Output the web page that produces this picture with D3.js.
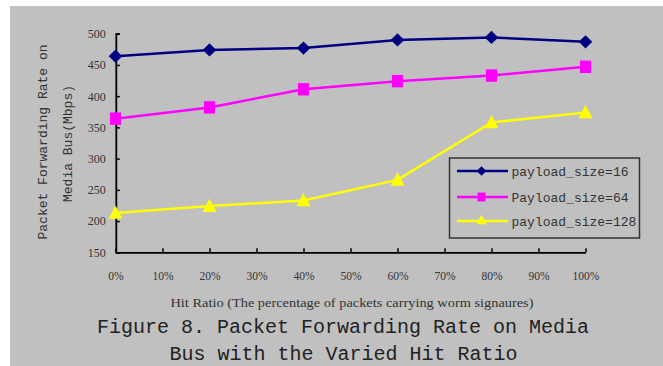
<!DOCTYPE html>
<html><head><meta charset="utf-8">
<script src="https://cdn.jsdelivr.net/npm/d3@7"></script>
<style>body{margin:0;background:#fff}svg{display:block}</style>
</head><body>
<svg id="c" width="663" height="366"></svg>
<script>
const hitRatios = [0, 20, 40, 60, 80, 100];
const xTicks = [0, 10, 20, 30, 40, 50, 60, 70, 80, 90, 100];
const yTicks = [150, 200, 250, 300, 350, 400, 450, 500];
const seriesNames = ["payload_size=16", "Payload_size=64", "payload_size=128"];
const s16 = [464, 474, 477, 490, 494, 487];
const s64 = [364, 382, 411, 424, 433, 447];
const s128 = [213, 224, 233, 266, 358, 374];
const colors = ["#000080", "#ff00ff", "#ffff00"];
const allSeries = [s16, s64, s128];

// marker shapes (path generators by scale factor)
function marker(k, f) {
  if (k === 0) { const w = 6.8 * f, h = 6.6 * f; return `M0,${-h}L${w},0L0,${h}L${-w},0Z`; }
  if (k === 1) { const w = 5.6 * f, h = 6.2 * f; return `M${-w},${-h}H${w}V${h}H${-w}Z`; }
  const w = 7 * f, t = 7.5 * f, b = 5.8 * f; return `M0,${-t}L${w},${b}L${-w},${b}Z`;
}

const svg = d3.select("#c");
svg.append("rect").attr("x", 10).attr("y", 6).attr("width", 653).attr("height", 360).attr("fill", "#c0c0c0");

const x = d3.scaleLinear().domain([0, 100]).range([115.5, 585.5]);
const y = d3.scaleLinear().domain([150, 500]).range([252.3, 33.7]);

const serif = "'Liberation Serif', 'Times New Roman', serif";
const mono = "'Liberation Mono', 'Courier New', monospace";

// y axis
const yAx = svg.append("g").attr("transform", "translate(115.8,0)")
  .call(d3.axisLeft(y).tickValues(yTicks).tickSize(-4).tickPadding(10));
yAx.select(".domain").attr("stroke", "#000").attr("stroke-width", 1.8);
yAx.selectAll(".tick line").attr("stroke", "#000").attr("stroke-width", 1.5);
yAx.selectAll("text").attr("font-family", serif).attr("font-size", 12).attr("fill", "#333");

// x axis
const xAx = svg.append("g").attr("transform", "translate(0,252.3)")
  .call(d3.axisBottom(x).tickValues(xTicks).tickSize(0).tickPadding(0).tickFormat(d => d + "%"));
xAx.select(".domain").attr("stroke", "#000").attr("stroke-width", 1.8);
xAx.selectAll(".tick").append("line").attr("y1", 0).attr("y2", -4).attr("stroke", "#000").attr("stroke-width", 1.5);
xAx.selectAll("text").attr("font-family", serif).attr("font-size", 11.5).attr("fill", "#333")
  .attr("y", 28).attr("dy", 0);

// axis titles
svg.append("text").attr("x", 352).attr("y", 307).attr("text-anchor", "middle")
  .attr("font-family", serif).attr("font-size", 11.5).attr("fill", "#333")
  .attr("textLength", 363).attr("lengthAdjust", "spacingAndGlyphs")
  .text("Hit Ratio (The percentage of packets carrying worm signaures)");

const yt = svg.append("text").attr("transform", "rotate(-90)")
  .attr("font-family", mono).attr("font-size", 13).attr("fill", "#333").attr("text-anchor", "middle");
yt.append("tspan").attr("x", -142).attr("y", 47).text("Packet Forwarding Rate on");
yt.append("tspan").attr("x", -143.5).attr("y", 72).text("Media Bus(Mbps)");

// lines + markers
const line = d3.line().x((d, i) => x(hitRatios[i])).y(d => y(d));
allSeries.forEach((s, k) => {
  svg.append("path").datum(s).attr("d", line).attr("fill", "none")
    .attr("stroke", colors[k]).attr("stroke-width", 2.5);
  svg.selectAll(null).data(s).enter().append("path")
    .attr("transform", (d, i) => `translate(${x(hitRatios[i])},${y(d)})`)
    .attr("d", marker(k, 1))
    .attr("fill", colors[k]);
});

// legend
const lg = svg.append("g");
lg.append("rect").attr("x", 449.5).attr("y", 158).attr("width", 190).attr("height", 80)
  .attr("fill", "none").attr("stroke", "#333").attr("stroke-width", 1.5);
const legY = [171, 197, 221];
seriesNames.forEach((n, k) => {
  lg.append("line").attr("x1", 457).attr("x2", 508).attr("y1", legY[k]).attr("y2", legY[k])
    .attr("stroke", colors[k]).attr("stroke-width", 2.5);
  lg.append("path").attr("transform", `translate(481.5,${legY[k] + (k === 2 ? -1 : 0)})`)
    .attr("d", marker(k, 0.72)).attr("fill", colors[k]);
  lg.append("text").attr("x", 511.5).attr("y", legY[k] + 4.5)
    .attr("font-family", mono).attr("font-size", 13).attr("fill", "#333").text(n);
});

// caption
const cap = svg.append("text").attr("text-anchor", "middle").attr("font-family", mono)
  .attr("font-size", 20).attr("fill", "#222");
cap.append("tspan").attr("x", 343).attr("y", 333).text("Figure 8. Packet Forwarding Rate on Media");
cap.append("tspan").attr("x", 343.5).attr("y", 360).text("Bus with the Varied Hit Ratio");
</script>
</body></html>
